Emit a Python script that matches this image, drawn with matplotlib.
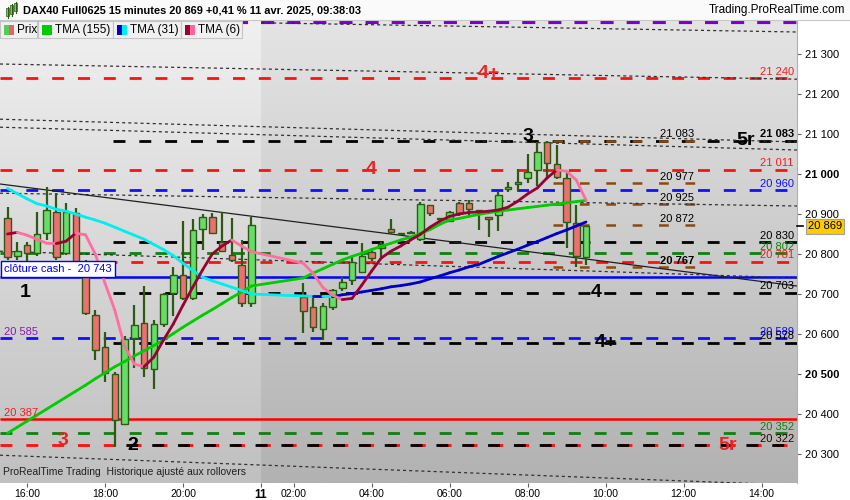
import matplotlib
matplotlib.use("Agg")
import matplotlib.pyplot as plt
import numpy as np
import pandas as pd
from matplotlib.patches import Rectangle
from matplotlib.collections import LineCollection

plt.rcParams['font.family'] = ['Liberation Sans', 'DejaVu Sans']
plt.rcParams['lines.scale_dashes'] = False

# 15 min bars : 10 avr. 15:30 -> 21:45, then 11 avr. 02:15 -> 09:30
n_day1 = 26
n_day2 = 30
opens = [20889, 20795, 20822, 20803, 20852, 20906, 20803, 20902, 20743, 20647,
         20568, 20499, 20374, 20590, 20627, 20512, 20624, 20702, 20748, 20689,
         20862, 20893, 20831, 20797, 20772, 20677,
         20693, 20667, 20612, 20668, 20714, 20735, 20756, 20806, 20825, 20862,
         20850, 20853, 20837, 20922, 20887, 20883, 20927, 20928, 20908, 20893,
         20897, 20962, 20979, 20989, 21010, 21081, 21024, 20989, 20877, 20792]
highs = [20918, 20831, 20830, 20906, 20968, 20952, 20928, 20914, 20785, 20660,
         20606, 20506, 20595, 20672, 20720, 20635, 20702, 20767, 20882, 20887,
         20900, 20902, 20906, 20890, 20835, 20893,
         20727, 20693, 20677, 20712, 20742, 20792, 20827, 20815, 20830, 20887,
         20853, 20857, 20930, 20922, 20890, 20908, 20930, 20935, 20908, 20893,
         20955, 20981, 21012, 21050, 21081, 21083, 21072, 21006, 20922, 20870]
lows = [20785, 20785, 20781, 20795, 20835, 20785, 20797, 20775, 20647, 20535,
        20481, 20318, 20372, 20515, 20492, 20462, 20617, 20645, 20685, 20685,
        20810, 20850, 20805, 20781, 20667, 20668,
        20602, 20605, 20585, 20660, 20708, 20722, 20752, 20783, 20792, 20850,
        20847, 20850, 20832, 20895, 20884, 20880, 20895, 20893, 20860, 20843,
        20857, 20956, 20958, 20977, 20970, 20987, 20987, 20815, 20767, 20772]
closes = [20792, 20808, 20803, 20849, 20910, 20793, 20904, 20781, 20652, 20560,
          20502, 20385, 20587, 20622, 20514, 20625, 20699, 20748, 20689, 20860,
          20893, 20852, 20807, 20785, 20677, 20872,
          20658, 20618, 20670, 20709, 20729, 20781, 20795, 20789, 20814, 20856,
          20851, 20853, 20925, 20902, 20887, 20906, 20902, 20912, 20908, 20888,
          20947, 20967, 20974, 21006, 21054, 21028, 20992, 20881, 20795, 20869]

tma155 = [20352, 20367, 20382, 20397, 20412, 20427, 20442, 20457, 20472, 20488,
          20503, 20518, 20531, 20545, 20558, 20571, 20585, 20601, 20617, 20632,
          20647, 20661, 20676, 20691, 20705, 20720,
          20740, 20752, 20763, 20774, 20785, 20794, 20802, 20811, 20819, 20827,
          20835, 20842, 20851, 20861, 20874, 20885, 20889, 20894, 20899, 20903,
          20907, 20910, 20913, 20916, 20919, 20922, 20925, 20928, 20931, 20934]
tma31 = [20964, 20951, 20938, 20926, 20920, 20912, 20907, 20900, 20892, 20885,
         20877, 20867, 20857, 20847, 20837, 20824, 20811, 20796, 20777, 20759,
         20742, 20733, 20725, 20717, 20709, 20700,
         20695, 20694, 20694, 20693, 20698, 20701, 20705, 20709, 20713, 20718,
         20721, 20725, 20730, 20738, 20745, 20753, 20760, 20768, 20774, 20784,
         20794, 20803, 20812, 20822, 20831, 20841, 20851, 20860, 20870, 20880]
tma6 = [20850, 20854, 20847, 20837, 20827, 20826, 20832, 20852, 20848, 20800,
        20727, 20660, 20570, 20525, 20518, 20542, 20585, 20625, 20672, 20717,
        20760, 20800, 20820, 20835, 20820, 20806,
        20777, 20752, 20717, 20697, 20686, 20689, 20722, 20757, 20790, 20807,
        20820, 20835, 20849, 20867, 20882, 20894, 20900, 20904, 20905, 20907,
        20910, 20917, 20932, 20950, 20965, 20990, 21010, 21007, 20985, 20935]

last_price = 20869
cash_close = 20743

# levels
lvl_purple = 21380
lvl_red_4p = 21240
lvl_black_5r = 21083
lvl_red_4 = 21011
lvl_blue_hi = 20960
lvl_black_830 = 20830
lvl_green_802 = 20802
lvl_red_781 = 20781
lvl_black_703 = 20703
lvl_blue_589 = 20589
lvl_black_578 = 20578
lvl_red_387 = 20387
lvl_green_352 = 20352
lvl_red_5r = 20322
brown_levels = [21083, 20977, 20925, 20872, 20767]

# trend lines: price at left edge, price at right edge
dotted_trends = [(21275, 21237), (21137, 21080), (21117, 21060),
                 (20952, 20920), (20807, 20740), (20297, 20222)]
dotted_top = (21378, 21355)
solid_trend = (20975, 20720)


def pos(day, hhmm):
    h, m = hhmm.split(":")
    t = int(h) + int(m) / 60
    if day == 10:
        return t
    return 22 + t - (1 + 10 / 60)


times1 = pd.date_range("2025-04-10 15:30", periods=n_day1, freq="15min")
times2 = pd.date_range("2025-04-11 02:15", periods=n_day2, freq="15min")
xs = np.array([pos(10, t.strftime("%H:%M")) for t in times1] +
              [pos(11, t.strftime("%H:%M")) for t in times2])

u0 = 18 - 105 / 39
u1 = 18 + 692 / 39
ylo, yhi = 20227.5, 21385

fig = plt.figure(figsize=(8.5, 5), dpi=100)
ax = fig.add_axes([0, 17 / 500, 797 / 850, 463 / 500])
ax.set_xlim(u0, u1)
ax.set_ylim(ylo, yhi)

# background gradient, lighter on previous day
g = np.linspace(0, 1, 256).reshape(-1, 1, 1)
def grad(top, bot):
    top = np.array(top) / 255
    bot = np.array(bot) / 255
    return top + (bot - top) * g
split = pos(11, "01:10")
ax.imshow(grad((240, 240, 240), (192, 192, 192)), extent=[u0, split, ylo, yhi],
          aspect='auto', origin='upper', zorder=0)
ax.imshow(grad((228, 228, 228), (178, 178, 178)), extent=[split, u1, ylo, yhi],
          aspect='auto', origin='upper', zorder=0)

dash = (0, (8.6, 10))
start_blk = pos(10, "18:12")

def hl(y, x0, color, lw=2.0, ls=dash, x1=None, z=2):
    ax.plot([x0, u1 if x1 is None else x1], [y, y], color=color, lw=lw, ls=ls,
            zorder=z, solid_capstyle='butt', dash_capstyle='butt')

hl(lvl_purple, u0, '#7a00cc', lw=3.0, ls=(0, (9.4, 9.4)))
hl(lvl_red_4p, u0, '#ff1010')
hl(lvl_black_5r, start_blk, 'black')
hl(lvl_red_4, u0, '#ff1010')
hl(lvl_blue_hi, u0, '#1010ff')
hl(lvl_black_830, start_blk, 'black')
hl(lvl_green_802, u0, '#108010')
hl(lvl_red_781, pos(10, "18:00"), '#ff1010')
hl(cash_close, u0, '#0000ff', lw=1.8, ls='-')
hl(lvl_black_703, start_blk, 'black')
hl(lvl_blue_589, u0, '#1010ff')
hl(lvl_black_578, start_blk, 'black')
hl(lvl_red_387, u0, '#ff0000', lw=1.8, ls='-')
hl(lvl_green_352, u0, '#108010')
hl(lvl_red_5r, u0, '#ff1010')
hl(lvl_red_5r, start_blk, 'black', ls=(9.3, (8.6, 10)))
for b in brown_levels:
    hl(b, pos(11, "08:40"), '#8b4a10', lw=1.8, ls=(0, (7, 12)), x1=pos(11, "12:20"))

for p0, p1 in dotted_trends:
    ax.plot([u0, u1], [p0, p1], color='#303030', lw=0.9, ls=(0, (2.2, 2.2)), zorder=2)
ax.plot([split, u1], list(dotted_top), color='#303030', lw=0.9, ls=(0, (2.2, 2.2)), zorder=2)
ax.plot([u0, u1], list(solid_trend), color='#202020', lw=0.9, zorder=2)

# candles
bw = 6.5 / 39
for x, o, h, l, c in zip(xs, opens, highs, lows, closes):
    ax.plot([x, x], [l, h], color='#2d5a12', lw=1.6, zorder=4, solid_capstyle='butt')
    col = '#66dd66' if c >= o else '#ec7070'
    hgt = max(abs(c - o), 2.5)
    ax.add_patch(Rectangle((x - bw / 2, min(o, c)), bw, hgt, facecolor=col,
                           edgecolor='#2d5a12', lw=1.0, zorder=5))

# moving averages, two colours for rising / falling
def ma(vals, up, down, lw=2.0):
    pts = np.column_stack([xs, vals])
    segs = np.stack([pts[:-1], pts[1:]], axis=1)
    cols = [up if b >= a else down for a, b in zip(vals[:-1], vals[1:])]
    ax.add_collection(LineCollection(segs, colors=cols, linewidths=lw, zorder=6,
                                     capstyle='round'))

ma(tma155, '#00cc00', '#00cc00')
ma(tma31, '#0000cc', '#00eeee')
ma(tma6, '#990033', '#ff6e9e')

# level labels
red = '#ee2020'
def rlab(txt, y, color, bold=False, dy=1):
    ax.annotate(txt, xy=(0.996, y), xycoords=('axes fraction', 'data'),
                xytext=(0, dy), textcoords='offset points', ha='right', va='bottom',
                fontsize=8, color=color, fontweight='bold' if bold else 'normal', zorder=8)

rlab("21 240", lvl_red_4p, red)
rlab("21 083", lvl_black_5r, 'black', True)
rlab("21 011", lvl_red_4, red)
rlab("20 960", lvl_blue_hi, '#1010ff')
rlab("20 830", lvl_black_830, 'black')
rlab("20 802", lvl_green_802, '#108010')
rlab("20 781", lvl_red_781, red)
rlab("20 703", lvl_black_703, 'black')
rlab("20 589", lvl_blue_589, '#1010ff')
rlab("20 578", lvl_black_578, 'black')
rlab("20 352", lvl_green_352, '#108010')
rlab("20 322", lvl_red_5r, '#300000')

xm = pos(11, "11:50")
for b in brown_levels:
    ax.annotate(f"{b:,}".replace(",", " "), xy=(xm, b), xytext=(0, 1),
                textcoords='offset points', ha='center', va='bottom', fontsize=8,
                color='black', fontweight='bold' if b == 20767 else 'normal', zorder=8)

def llab(txt, y, color):
    ax.annotate(txt, xy=(u0, y), xytext=(3, 1), textcoords='offset points',
                ha='left', va='bottom', fontsize=8, color=color, zorder=8)

llab("20 585", lvl_blue_589, '#8a1ab8')
llab("20 387", lvl_red_387, red)
ax.annotate("clôture cash -  20 743", xy=(u0, cash_close), xytext=(3, 2.2),
            textcoords='offset points', ha='left', va='bottom', fontsize=8, color='#0000ee',
            bbox=dict(boxstyle='square,pad=0.25', fc='white', ec='#0000ff', lw=1), zorder=9)

def big(txt, x, y, color, va='center'):
    ax.text(x, y, txt, fontsize=14, fontweight='bold', color=color, ha='center',
            va=va, zorder=9)

big("4+", pos(11, "07:00"), lvl_red_4p, red, 'baseline')
big("4", pos(11, "04:00"), lvl_red_4, red)
big("3", pos(11, "08:00"), lvl_black_5r, 'black', 'baseline')
big("5r", pos(11, "13:35"), lvl_black_5r, 'black')
big("1", pos(10, "15:57"), lvl_black_703, 'black')
big("4", pos(11, "09:45"), lvl_black_703, 'black')
big("4+", pos(11, "10:00"), lvl_black_578, 'black')
big("3", pos(10, "16:55"), lvl_red_5r, red, 'baseline')
big("2", pos(10, "18:43"), lvl_red_5r, 'black')
big("5r", pos(11, "13:08"), lvl_red_5r, red)

ax.text(0.004, 0.012, "ProRealTime Trading  Historique ajusté aux rollovers",
        transform=ax.transAxes, fontsize=7.5, color='#202020', ha='left', va='bottom', zorder=9)

# axes
for s in ['top', 'left', 'bottom']:
    ax.spines[s].set_visible(False)
ax.spines['right'].set_color('#b0b0b0')
ax.yaxis.tick_right()
yt = list(range(20300, 21301, 100))
ax.set_yticks(yt)
ax.set_yticklabels([f"{v:,}".replace(",", " ") for v in yt], fontsize=8)
for t, v in zip(ax.get_yticklabels(), yt):
    if v in (21000, 20500):
        t.set_fontweight('bold')
ax.tick_params(axis='y', length=3, color='#606060', pad=3)

xt_lab = ["16:00", "18:00", "20:00", "11", "02:00", "04:00", "06:00", "08:00",
          "10:00", "12:00", "14:00"]
xt_pos = [pos(10, "16:00"), pos(10, "18:00"), pos(10, "20:00"), split] + \
         [pos(11, s) for s in xt_lab[4:]]
ax.set_xticks(xt_pos)
ax.set_xticklabels(xt_lab, fontsize=7.5)
ax.get_xticklabels()[3].set_fontweight('bold')
ax.get_xticklabels()[3].set_fontsize(8.5)
ax.tick_params(axis='x', length=3, color='#606060', pad=1)

ax.annotate(f"{last_price:,}".replace(",", " "), xy=(1.0, last_price),
            xycoords=('axes fraction', 'data'), xytext=(8, 0), textcoords='offset points',
            ha='left', va='center', fontsize=8, color='black', annotation_clip=False,
            bbox=dict(boxstyle='square,pad=0.2', fc='#ffcc00', ec='#a0a0a0', lw=0.8), zorder=10)
ax.plot([1.0, 1.008], [last_price, last_price], transform=ax.get_yaxis_transform(),
        color='black', lw=1.2, clip_on=False, zorder=10)

# header and legend boxes (pixel overlay)
ov = fig.add_axes([0, 0, 1, 1], facecolor='none')
ov.set_xlim(0, 850)
ov.set_ylim(500, 0)
ov.axis('off')
ov.add_patch(Rectangle((0, 0), 850, 20, facecolor='#fafafa', edgecolor='none'))
ov.plot([0, 850], [20, 20], color='#c8c8c8', lw=0.8)
for xx, y0, y1 in [(8, 8, 16), (12, 5, 14), (16, 3, 11)]:
    ov.plot([xx, xx], [y0 - 1, y1 + 2], color='#2d5a12', lw=0.8)
    ov.add_patch(Rectangle((xx - 1.5, y0), 3, y1 - y0, facecolor='#66dd66', edgecolor='#2d5a12', lw=0.5))
ov.text(23, 10.5, "DAX40 Full0625 15 minutes 20 869 +0,41 % 11 avr. 2025, 09:38:03",
        fontsize=7.9, fontweight='bold', ha='left', va='center')
ov.text(845, 10.5, "Trading.ProRealTime.com", fontsize=8.5, ha='right', va='center')

boxes = [(0, 37, "Prix", ('#55cc55', '#e06666')),
         (38, 75, "TMA (155)", ('#00cc00', '#00cc00')),
         (113, 68, "TMA (31)", ('#0000cc', '#00eeee')),
         (181, 61, "TMA (6)", ('#990033', '#ff6699'))]
for bx, bwid, txt, (c1, c2) in boxes:
    ov.add_patch(Rectangle((bx, 21), bwid, 17, facecolor='#f0f0f0', edgecolor='#c4c4c4', lw=0.8))
    ov.add_patch(Rectangle((bx + 4, 24.5), 5, 10, facecolor=c1, edgecolor='none'))
    ov.add_patch(Rectangle((bx + 9, 24.5), 5, 10, facecolor=c2, edgecolor='none'))
    ov.text(bx + 17, 30, txt, fontsize=8.5, ha='left', va='center')

fig.savefig("out.png", dpi=100)
